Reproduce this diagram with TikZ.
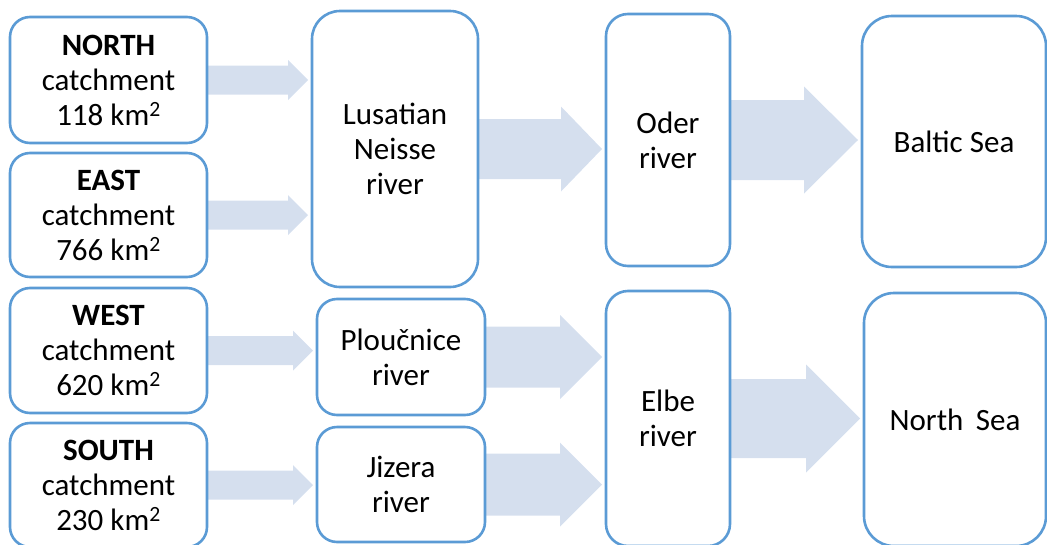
\documentclass[tikz,border=0pt]{standalone}
\usepackage{fontspec}
\setmainfont{Carlito}
\usetikzlibrary{calc,backgrounds}
\definecolor{boxblue}{HTML}{5B9BD5}
\definecolor{arrowfill}{HTML}{D5DFEE}
\tikzset{
  box/.style={draw=boxblue, line width=2.6pt, fill=white, rectangle, inner sep=0pt, outer sep=0pt,
    align=center, font=\fontsize{31}{35}\selectfont, text=black},
}
\newcommand{\blockarrow}[5]{%
  \fill[arrowfill] let \p1=(#1.east), \p2=(#2.west) in
    (\x1,\y1+#3pt) -- (\x2-4pt-#5pt,\y1+#3pt) -- (\x2-4pt-#5pt,\y1+#4pt) --
    (\x2-4pt,\y1) -- (\x2-4pt-#5pt,\y1-#4pt) -- (\x2-4pt-#5pt,\y1-#3pt) --
    (\x1,\y1-#3pt) -- cycle;}
\begin{document}
\begin{tikzpicture}[x=1pt,y=-1pt]
\useasboundingbox (0,0) rectangle (1047,544);
\clip (0,0) rectangle (1047,544);
\node[box, minimum width=197pt, minimum height=126pt, rounded corners=20pt] (north) at (108.5,80) {\textbf{NORTH}\\catchment\\118 km\textsuperscript{2}};
\node[box, minimum width=197pt, minimum height=124pt, rounded corners=20pt] (east) at (108.5,215) {\textbf{EAST}\\catchment\\766 km\textsuperscript{2}};
\node[box, minimum width=197pt, minimum height=125pt, rounded corners=20pt] (west) at (108.5,350.5) {\textbf{WEST}\\catchment\\620 km\textsuperscript{2}};
\node[box, minimum width=197pt, minimum height=124pt, rounded corners=20pt] (south) at (108.5,485) {\textbf{SOUTH}\\catchment\\230 km\textsuperscript{2}};
\node[box, minimum width=166pt, minimum height=276pt, rounded corners=28pt] (lus) at (395,149) {Lusatian\\Neisse\\river};
\node[box, minimum width=168pt, minimum height=116pt, rounded corners=20pt] (plo) at (401,357) {Ploučnice\\river};
\node[box, minimum width=168pt, minimum height=115pt, rounded corners=20pt] (jiz) at (401,484.5) {Jizera\\river};
\node[box, minimum width=124pt, minimum height=252pt, rounded corners=22pt] (oder) at (668,140) {Oder\\river};
\node[box, minimum width=124pt, minimum height=255pt, rounded corners=22pt] (elbe) at (668,418.5) {Elbe\\river};
\node[box, minimum width=184pt, minimum height=251pt, rounded corners=30pt] (baltic) at (954,141.5) {Baltic Sea};
\node[box, minimum width=182pt, minimum height=253pt, rounded corners=30pt] (northsea) at (955,419.5) {North\hspace{0.4em}Sea};
\begin{scope}[on background layer]
\blockarrow{north}{lus}{14.5}{20}{20}
\blockarrow{east}{lus}{14.5}{20}{20}
\blockarrow{west}{plo}{14.5}{20}{20}
\blockarrow{south}{jiz}{14.5}{20}{20}
\blockarrow{lus}{oder}{30}{42.5}{41}
\blockarrow{oder}{baltic}{40}{53.5}{54}
\blockarrow{plo}{elbe}{30.5}{42}{42}
\blockarrow{jiz}{elbe}{31}{42}{42}
\blockarrow{elbe}{northsea}{39.5}{54}{54}
\end{scope}
\end{tikzpicture}
\end{document}
